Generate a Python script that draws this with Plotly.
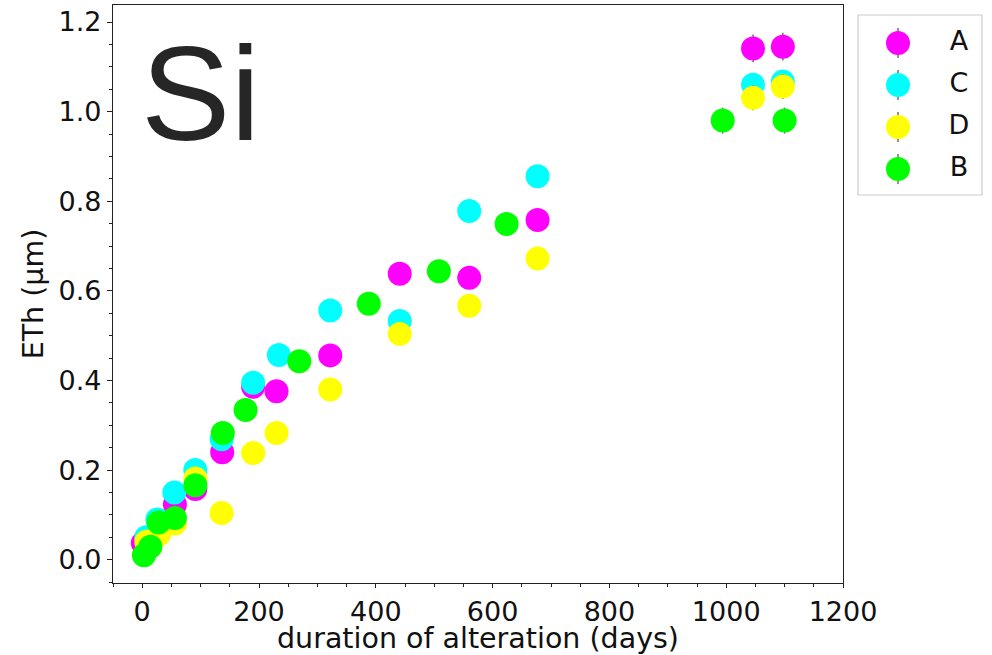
import plotly.graph_objects as go

# ---- data -------------------------------------------------------------
series_names = ["A", "C", "D", "B"]
series_colors = ["#ff00ff", "#00ffff", "#ffff00", "#00ff00"]

days_A = [1, 56, 91, 137, 190, 230, 322, 441, 560, 677, 1046, 1097]
eth_A = [0.037, 0.123, 0.158, 0.240, 0.386, 0.376, 0.456, 0.638, 0.629, 0.758, 1.141, 1.145]
err_A = [0.01, 0.015, 0.015, 0.02, 0.02, 0.02, 0.02, 0.02, 0.02, 0.02, 0.031, 0.031]

days_C = [7, 26, 55, 91, 136, 190, 234, 322, 441, 560, 677, 1046, 1097]
eth_C = [0.050, 0.090, 0.150, 0.200, 0.269, 0.395, 0.457, 0.556, 0.533, 0.778, 0.856, 1.060, 1.067]
err_C = [0.01, 0.01, 0.015, 0.015, 0.02, 0.02, 0.02, 0.02, 0.02, 0.02, 0.02, 0.026, 0.026]

days_D = [7, 29, 56, 91, 136, 190, 230, 322, 441, 560, 677, 1046, 1097]
eth_D = [0.040, 0.057, 0.081, 0.181, 0.104, 0.238, 0.283, 0.380, 0.504, 0.567, 0.672, 1.031, 1.056]
err_D = [0.01, 0.01, 0.015, 0.015, 0.02, 0.02, 0.02, 0.02, 0.02, 0.02, 0.02, 0.028, 0.028]

days_B = [3, 14, 28, 56, 91, 138, 177, 269, 388, 508, 624, 994, 1100]
eth_B = [0.010, 0.029, 0.083, 0.093, 0.166, 0.283, 0.334, 0.443, 0.571, 0.644, 0.749, 0.980, 0.980]
err_B = [0.005, 0.01, 0.01, 0.015, 0.015, 0.02, 0.02, 0.02, 0.02, 0.02, 0.02, 0.029, 0.029]

days = [days_A, days_C, days_D, days_B]
eth = [eth_A, eth_C, eth_D, eth_B]
errs = [err_A, err_C, err_D, err_B]

x_ticks = [0, 200, 400, 600, 800, 1000, 1200]
y_ticks = [0.0, 0.2, 0.4, 0.6, 0.8, 1.0, 1.2]

# ---- geometry (pixels) -----------------------------------------------
W, H = 992, 655
ML, MR, MT, MB = 113, 10, 5, 72
PW, PH = W - ML - MR, H - MT - MB
plot_right = 843                       # right edge of the main frame
leg_left, leg_right, leg_top, leg_bot = 858, 982, 15, 195
leg_first, leg_step = 28, 42           # first row centre and row pitch inside the box

TICK_FONT = dict(family="DejaVu Sans", size=27, color="#111111")
TITLE_FONT = dict(family="DejaVu Sans", size=28.5, color="#111111")
ERR_COLOR = "#707070"
MARKER_SIZE = 24

fig = go.Figure()

for name, color, xs, ys, es in zip(series_names, series_colors, days, eth, errs):
    fig.add_trace(go.Scatter(
        x=xs, y=ys, mode="markers", name=name, showlegend=False,
        marker=dict(size=MARKER_SIZE, color=color, line=dict(width=0)),
        error_y=dict(type="data", array=es, visible=True, color=ERR_COLOR,
                     thickness=1.5, width=0),
        xaxis="x", yaxis="y",
    ))

# legend drawn on its own small axes box
n = len(series_names)
leg_h = leg_bot - leg_top
y_lo = -leg_first / leg_step
y_hi = (leg_h - leg_first) / leg_step
marker_xfrac = 40 / (leg_right - leg_left)
text_xfrac = 101 / (leg_right - leg_left)
for i, (name, color) in enumerate(zip(series_names, series_colors)):
    fig.add_trace(go.Scatter(
        x=[marker_xfrac], y=[i], mode="markers", showlegend=False, hoverinfo="skip",
        marker=dict(size=MARKER_SIZE, color=color, line=dict(width=0)),
        error_y=dict(type="constant", value=15 / leg_step, visible=True,
                     color=ERR_COLOR, thickness=1.5, width=0),
        xaxis="x2", yaxis="y2",
    ))
fig.add_trace(go.Scatter(
    x=[text_xfrac] * n, y=list(range(n)), mode="text", text=series_names,
    textposition="middle center", showlegend=False, hoverinfo="skip",
    textfont=dict(family="DejaVu Sans", size=27, color="#111111"),
    xaxis="x2", yaxis="y2",
))

fig.add_shape(type="rect", xref="x2 domain", yref="y2 domain", x0=0, x1=1, y0=0, y1=1,
              line=dict(color="#cccccc", width=1.2), fillcolor="rgba(255,255,255,0.8)",
              layer="below")

axis_common = dict(
    showline=True, linecolor="#222222", linewidth=1.3, mirror=True,
    ticks="outside", tickwidth=1.2, tickcolor="#222222",
    showgrid=False, zeroline=False, tickfont=TICK_FONT, automargin=False,
)

fig.update_layout(
    width=W, height=H,
    margin=dict(l=ML, r=MR, t=MT, b=MB, autoexpand=False),
    paper_bgcolor="white", plot_bgcolor="white",
    showlegend=False,
    xaxis=dict(
        domain=[0, (plot_right - ML) / PW], range=[-50, 1200],
        tickvals=x_ticks, ticktext=[str(v) for v in x_ticks], ticklen=4,
        minor=dict(dtick=50, tick0=0, ticks="outside", ticklen=2.5, tickcolor="#222222", tickwidth=1),
        title=dict(text="duration of alteration (days)", font=TITLE_FONT, standoff=12),
        anchor="y", **axis_common,
    ),
    yaxis=dict(
        domain=[0, 1], range=[-0.052, 1.238],
        tickvals=y_ticks, ticktext=[f"{v:.1f}" for v in y_ticks], ticklen=5,
        minor=dict(dtick=0.05, tick0=0, ticks="outside", ticklen=2.5, tickcolor="#222222", tickwidth=1),
        title=dict(text="ETh (µm)", font=TITLE_FONT, standoff=6),
        anchor="x", **axis_common,
    ),
    xaxis2=dict(domain=[(leg_left - ML) / PW, (leg_right - ML) / PW], range=[0, 1],
                visible=False, anchor="y2", fixedrange=True),
    yaxis2=dict(domain=[(H - MB - leg_bot) / PH, (H - MB - leg_top) / PH],
                range=[y_hi, y_lo], visible=False, anchor="x2", fixedrange=True),
)

fig.add_annotation(
    text="Si", xref="x domain", yref="y domain",
    x=(139 - ML) / (plot_right - ML), y=(H - MB - 93.5) / PH,
    xanchor="left", yanchor="middle", showarrow=False,
    font=dict(family="Liberation Sans", size=134, color="#262626"),
)

fig.write_html("out.html")
